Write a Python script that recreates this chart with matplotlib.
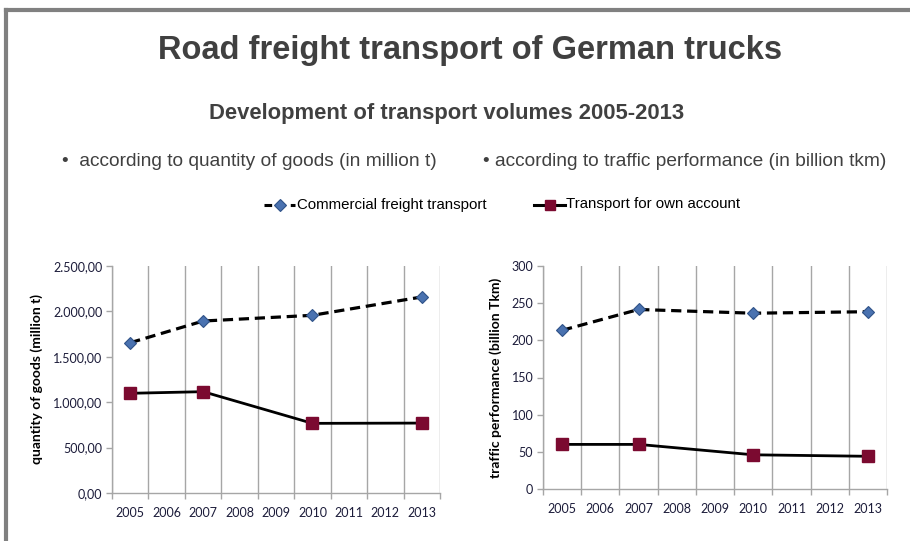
import matplotlib
matplotlib.use("Agg")
import matplotlib.pyplot as plt
from matplotlib.ticker import FuncFormatter, FixedLocator

years = ["2005", "2006", "2007", "2008", "2009", "2010", "2011", "2012", "2013"]
data_years = ["2005", "2007", "2010", "2013"]
goods_commercial = [1655, 1894, 1957, 2159]
goods_own = [1098, 1116, 767, 770]
perf_commercial = [213.5, 241.5, 236.5, 238.5]
perf_own = [60, 60, 46, 44]

series_names = ["Commercial freight transport", "Transport for own account"]

TXT = "#404040"
TICK = "#1c1c3a"
GRID = "#a6a6a6"
BLUE = "#4a72b0"
RED = "#7b0a30"

fig = plt.figure(figsize=(9.10, 5.41), dpi=100)
fig.patch.set_facecolor("white")

# frame lines (border of slide)
fig.add_artist(plt.Line2D([6/910, 6/910], [0, 1 - 10/541], color="#808080", lw=3, transform=fig.transFigure))
fig.add_artist(plt.Line2D([6/910, 1], [1 - 10/541, 1 - 10/541], color="#808080", lw=3, transform=fig.transFigure))

fig.text(470/910, 1 - 51/541, "Road freight transport of German trucks", ha="center", va="center",
         fontsize=23.5, fontweight="bold", color=TXT, family="Liberation Sans")
fig.text(447/910, 1 - 114/541, "Development of transport volumes 2005-2013", ha="center", va="center",
         fontsize=15.8, fontweight="bold", color=TXT, family="Liberation Sans")
fig.text(62/910, 1 - 161/541, "\u2022  according to quantity of goods (in million t)", ha="left", va="center",
         fontsize=13.8, color=TXT, family="Liberation Sans")
fig.text(483/910, 1 - 161/541, "\u2022 according to traffic performance (in billion tkm)", ha="left", va="center",
         fontsize=13.8, color=TXT, family="Liberation Sans")

xpos = {y: i for i, y in enumerate(years)}
xs = [xpos[y] for y in data_years]


def style_axes(ax, ylim, yticks, fmt, ylabel):
    ax.set_xlim(-0.5, len(years) - 0.5)
    ax.set_ylim(*ylim)
    ax.xaxis.set_major_locator(FixedLocator(list(range(len(years)))))
    ax.set_xticklabels(years)
    ax.xaxis.set_minor_locator(FixedLocator([i + 0.5 for i in range(-1, len(years))]))
    ax.tick_params(axis="x", which="major", length=0, pad=10, labelsize=9, labelcolor=TICK)
    ax.tick_params(axis="x", which="minor", length=4, color=GRID, width=1)
    ax.grid(True, axis="x", which="minor", color=GRID, lw=1)
    ax.grid(False, axis="x", which="major")
    ax.set_yticks(yticks)
    ax.yaxis.set_major_formatter(FuncFormatter(fmt))
    ax.tick_params(axis="y", length=4, color=GRID, width=1, labelsize=9, labelcolor=TICK, pad=3)
    for lab in ax.get_xticklabels() + ax.get_yticklabels():
        lab.set_family("Lato")
    for s in ["top", "right"]:
        ax.spines[s].set_visible(False)
    for s in ["left", "bottom"]:
        ax.spines[s].set_color(GRID)
        ax.spines[s].set_linewidth(1)
    ax.set_ylabel(ylabel, fontsize=10, fontweight="bold", color="black", family="Lato", labelpad=7)
    ax.set_axisbelow(True)


def de_fmt(v, pos):
    s = f"{v:,.2f}"
    return s.replace(",", "X").replace(".", ",").replace("X", ".")


ax1 = fig.add_axes([112/910, 1 - 493/541, 328/910, 227/541])
ax1.plot(xs, goods_commercial, color="black", lw=2.3, ls=(0, (3.2, 1.8)), marker="D", ms=6.5,
         mfc=BLUE, mec="#2f5288", mew=0.8, zorder=3)
ax1.plot(xs, goods_own, color="black", lw=2.0, marker="s", ms=8.5, mfc=RED, mec=RED, zorder=3)
style_axes(ax1, (0, 2500), [0, 500, 1000, 1500, 2000, 2500], de_fmt, "quantity of goods (million t)")

ax2 = fig.add_axes([543/910, 1 - 489/541, 344/910, 223/541])
ax2.plot(xs, perf_commercial, color="black", lw=2.3, ls=(0, (3.2, 1.8)), marker="D", ms=6.5,
         mfc=BLUE, mec="#2f5288", mew=0.8, zorder=3)
ax2.plot(xs, perf_own, color="black", lw=2.0, marker="s", ms=8.5, mfc=RED, mec=RED, zorder=3)
style_axes(ax2, (0, 300), [0, 50, 100, 150, 200, 250, 300], lambda v, p: f"{v:.0f}",
           "traffic performance (billion Tkm)")

# legend
leg_ax = fig.add_axes([0, 0, 1, 1], facecolor="none")
leg_ax.set_axis_off()
leg_ax.set_xlim(0, 910)
leg_ax.set_ylim(541, 0)
ly = 205
leg_ax.plot([264, 295], [ly, ly], color="black", lw=2.2, ls=(0, (2.5, 1.8)))
leg_ax.plot([280], [ly], marker="D", ms=6, mfc=BLUE, mec="#2f5288", mew=0.8, color="none")
leg_ax.text(297, ly, series_names[0], ha="left", va="center", fontsize=10.8, color="black", family="Liberation Sans")
leg_ax.plot([534, 565], [ly, ly], color="black", lw=2.2)
leg_ax.plot([550], [ly], marker="s", ms=7, mfc=RED, mec=RED, color="none")
leg_ax.text(566, ly - 1, series_names[1], ha="left", va="center", fontsize=10.8, color="black", family="Liberation Sans")

fig.savefig("out.png", dpi=100)
